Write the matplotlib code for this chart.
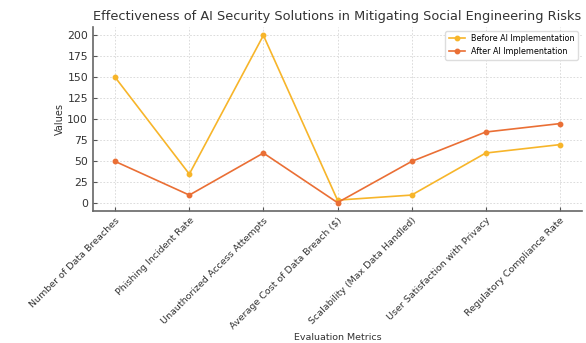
import numpy as np
import matplotlib.pyplot as plt

metrics = ["Number of Data Breaches", "Phishing Incident Rate",
           "Unauthorized Access Attempts", "Average Cost of Data Breach ($)",
           "Scalability (Max Data Handled)", "User Satisfaction with Privacy",
           "Regulatory Compliance Rate"]
before_ai = [150, 35, 200, 4, 10, 60, 70]
after_ai = [50, 10, 60, 1, 50, 85, 95]

plt.close("all")
fig = plt.figure(figsize=(5.86, 3.43), dpi=100)
ax = fig.add_axes([93/586, 1 - 211/343, (582 - 93)/586, (211 - 27)/343])

x = np.arange(len(metrics))
ax.plot(x, before_ai, marker='o', markersize=3.2, lw=1.2, color='#f7b52a', label='Before AI Implementation')
ax.plot(x, after_ai, marker='o', markersize=3.2, lw=1.2, color='#ea6f35', label='After AI Implementation')

ax.set_xticks(x)
ax.set_xticklabels(metrics, rotation=45, ha='right', rotation_mode='anchor', fontsize=6.8, color='#333333')
ax.set_yticks(np.arange(0, 201, 25))
ax.tick_params(axis='y', labelsize=7.8, labelcolor='#333333')
ax.tick_params(direction='in', length=3, color='#555555', width=0.8)
ax.grid(True, color='#d6d6d6', lw=0.6, ls=(0, (2, 2)))
for s in ['top', 'right']:
    ax.spines[s].set_visible(False)
for s in ['left', 'bottom']:
    ax.spines[s].set_color('#666666')
    ax.spines[s].set_linewidth(1.2)

ax.set_title("Effectiveness of AI Security Solutions in Mitigating Social Engineering Risks",
             fontsize=9.3, color='#333333', pad=5)
ax.set_xlabel("Evaluation Metrics", fontsize=6.8, color='#333333')
ax.xaxis.set_label_coords(0.5, (211 - 333) / 184)
ax.set_ylabel("Values", fontsize=7, color='#333333', labelpad=2)
ax.legend(loc='upper right', fontsize=5.8, frameon=True, edgecolor='#dddddd', framealpha=1)

fig.savefig('out.png', dpi=100)
